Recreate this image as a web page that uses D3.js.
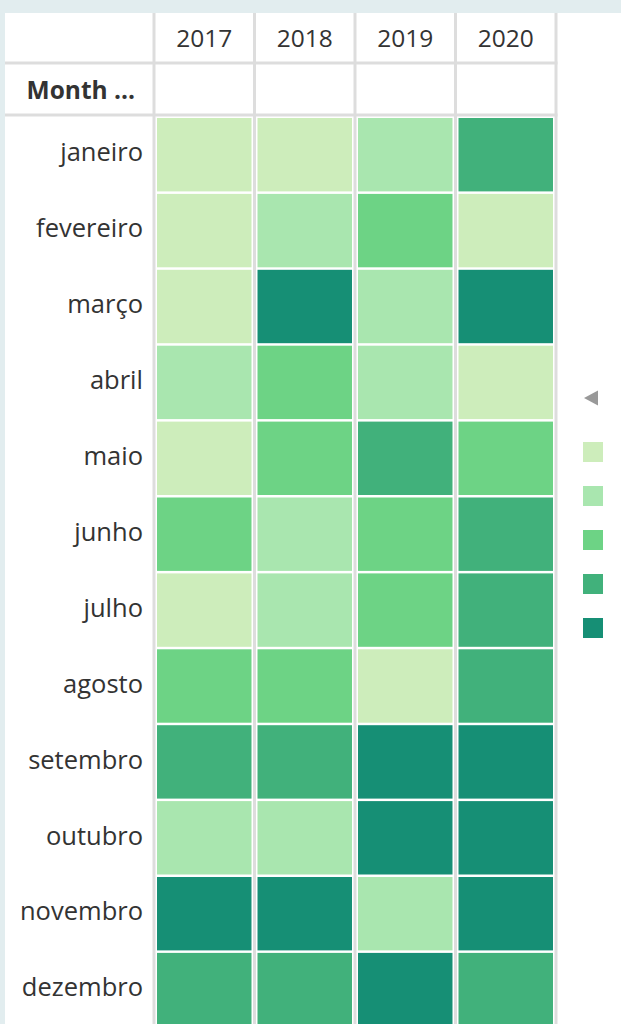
<!DOCTYPE html>
<html>
<head>
<meta charset="utf-8">
<script src="https://cdn.jsdelivr.net/npm/d3@7"></script>
<style>
  body { margin: 0; background: #e2edef; overflow: hidden; }
  text { font-family: "Open Sans", sans-serif; fill: #333; }
</style>
</head>
<body>
<div id="chart"></div>
<script>
var years = ['2017', '2018', '2019', '2020'];
var months = ['janeiro', 'fevereiro', 'março', 'abril', 'maio', 'junho',
  'julho', 'agosto', 'setembro', 'outubro', 'novembro', 'dezembro'];

// colour class (1 = lightest .. 5 = darkest) per month, one array per year
var v2017 = [1, 1, 1, 2, 1, 3, 1, 3, 4, 2, 5, 4];
var v2018 = [1, 2, 5, 3, 3, 2, 2, 3, 4, 2, 5, 4];
var v2019 = [2, 3, 2, 2, 4, 3, 3, 1, 5, 5, 2, 5];
var v2020 = [4, 1, 5, 1, 3, 4, 4, 4, 5, 5, 5, 4];
var levels = [1, 2, 3, 4, 5];
var palette = ['#cdedbb', '#a9e6af', '#6dd385', '#41b17b', '#168f75'];

var series = { '2017': v2017, '2018': v2018, '2019': v2019, '2020': v2020 };

var width = 621, height = 1024;

var svg = d3.select('#chart')
  .append('svg')
  .attr('width', width)
  .attr('height', height);

// white panel
svg.append('rect')
  .attr('x', 5).attr('y', 13)
  .attr('width', width - 5).attr('height', height)
  .attr('fill', '#fff');

var x = d3.scaleBand()
  .domain(years)
  .range([154, 556]);

var y = d3.scaleBand()
  .domain(months)
  .range([116.5, 116.5 + 12 * 75.9]);

var color = d3.scaleOrdinal()
  .domain(levels)
  .range(palette);

var cells = [];
years.forEach(function (yr) {
  series[yr].forEach(function (v, i) {
    cells.push({ year: yr, month: months[i], value: v });
  });
});

svg.selectAll('rect.cell')
  .data(cells)
  .enter()
  .append('rect')
  .attr('class', 'cell')
  .attr('x', function (d) { return x(d.year) + 3; })
  .attr('y', function (d) { return y(d.month) + 1.5; })
  .attr('width', x.bandwidth() - 6)
  .attr('height', y.bandwidth() - 2.5)
  .attr('fill', function (d) { return color(d.value); });

// table grid lines
var gridColor = '#dddddd';
svg.selectAll('line.v')
  .data(years.concat(['end']))
  .enter()
  .append('line')
  .attr('x1', function (d, i) { return d === 'end' ? x.range()[1] : x(d); })
  .attr('x2', function (d, i) { return d === 'end' ? x.range()[1] : x(d); })
  .attr('y1', 13)
  .attr('y2', height)
  .attr('stroke', gridColor)
  .attr('stroke-width', 3);

svg.selectAll('line.h')
  .data([63, 115])
  .enter()
  .append('line')
  .attr('x1', 5)
  .attr('x2', x.range()[1] + 1.5)
  .attr('y1', function (d) { return d; })
  .attr('y2', function (d) { return d; })
  .attr('stroke', gridColor)
  .attr('stroke-width', 3);

// column headers
svg.selectAll('text.year')
  .data(years)
  .enter()
  .append('text')
  .attr('x', function (d) { return x(d) + x.bandwidth() / 2; })
  .attr('y', 47)
  .attr('text-anchor', 'middle')
  .attr('font-size', 24.5)
  .text(function (d) { return d; });

svg.append('text')
  .attr('x', 135)
  .attr('y', 99)
  .attr('text-anchor', 'end')
  .attr('font-size', 24.5)
  .attr('font-weight', 'bold')
  .text('Month ...');

// row labels
svg.selectAll('text.month')
  .data(months)
  .enter()
  .append('text')
  .attr('x', 143)
  .attr('y', function (d) { return y(d) + y.bandwidth() / 2 + 7; })
  .attr('text-anchor', 'end')
  .attr('font-size', 25.5)
  .text(function (d) { return d; });

// legend
svg.append('path')
  .attr('d', 'M584,398 L598,390.5 L598,405.5 Z')
  .attr('fill', '#999');

svg.selectAll('rect.legend')
  .data(levels)
  .enter()
  .append('rect')
  .attr('x', 583)
  .attr('y', function (d, i) { return 442 + i * 44; })
  .attr('width', 20)
  .attr('height', 20)
  .attr('fill', function (d) { return color(d); });
</script>
</body>
</html>
